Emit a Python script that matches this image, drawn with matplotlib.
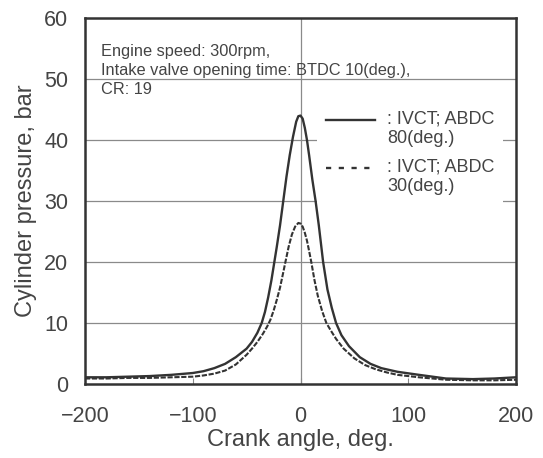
import matplotlib
matplotlib.use("Agg")
import matplotlib.pyplot as plt
from matplotlib.patches import Rectangle

# crank angle (deg) / cylinder pressure (bar)
angle_80 = [-200, -180, -160, -140, -120, -100, -90, -80, -70, -60, -50, -45, -40,
            -36, -33, -30, -27, -25, -22, -19, -16, -13, -10, -7, -4, -2, 0, 2, 4, 6, 8,
            11, 14, 17, 21, 25, 29, 33, 38, 45, 55, 65, 75, 90, 110, 135, 160, 180, 200]
p_80 = [1.1, 1.1, 1.2, 1.3, 1.5, 1.8, 2.1, 2.6, 3.3, 4.4, 5.8, 6.9, 8.4,
        10.0, 11.8, 14.2, 17.0, 19.2, 22.5, 26.0, 30.0, 34.0, 37.5, 40.5, 43.0, 43.9, 44.0, 43.5, 42.0, 40.0, 37.5,
        33.5, 30.0, 26.0, 20.0, 15.5, 12.5, 10.0, 8.0, 6.2, 4.4, 3.3, 2.6, 2.0, 1.5, 0.9, 0.8, 0.9, 1.1]

angle_30 = [-200, -180, -160, -140, -120, -100, -90, -80, -70, -60, -50, -45, -40,
            -35, -31, -28, -25, -22, -19, -16, -14, -11, -8, -5, -2, 0, 2, 4, 6, 8,
            10, 13, 16, 20, 24, 28, 33, 40, 50, 60, 70, 80, 90, 110, 135, 160, 180, 200]
p_30 = [0.9, 0.9, 1.0, 1.0, 1.1, 1.2, 1.4, 1.7, 2.2, 3.2, 4.8, 5.8, 6.9,
        8.2, 9.4, 10.5, 12.0, 13.8, 15.8, 18.3, 20.0, 22.5, 24.5, 25.8, 26.4, 26.3, 25.8, 24.8, 23.5, 21.8,
        20.0, 17.0, 14.5, 12.0, 10.0, 8.8, 7.4, 5.8, 4.2, 3.1, 2.4, 1.9, 1.5, 1.1, 0.7, 0.6, 0.6, 0.7]

x_ticks = [-200, -100, 0, 100, 200]
x_tick_labels = ["\u2212200", "\u2212100", "0", "100", "200"]
y_ticks = [0, 10, 20, 30, 40, 50, 60]
y_grid = [10, 20, 30, 40, 50]

note = "Engine speed: 300rpm,\nIntake valve opening time: BTDC 10(deg.),\nCR: 19"
labels = [": IVCT; ABDC\n80(deg.)", ": IVCT; ABDC\n30(deg.)"]

dark = "#333333"
textc = "#444444"

plt.rcParams["font.family"] = ["Liberation Sans", "DejaVu Sans"]

fig = plt.figure(figsize=(5.43, 4.58), dpi=100)
ax = fig.add_axes([85 / 543, 1 - 384 / 458, 431 / 543, 366 / 458])

for g in y_grid:
    ax.axhline(g, color="#8a8a8a", lw=0.9, zorder=1)
ax.axvline(0, color="#8a8a8a", lw=0.9, zorder=1)

ax.plot(angle_80, p_80, color=dark, lw=1.7, zorder=3)
ax.plot(angle_30, p_30, color=dark, lw=1.5, dashes=(2.5, 0.8), zorder=3)

ax.set_xlim(-200, 200)
ax.set_ylim(0, 60)
ax.set_xticks(x_ticks)
ax.set_yticks(y_ticks)
ax.set_xticklabels(x_tick_labels)
ax.tick_params(axis="x", direction="in", length=4, width=0.8, color="#888888",
               labelsize=15.5, labelcolor=textc, pad=16)
ax.tick_params(axis="y", length=0, labelsize=15.5, labelcolor=textc, pad=12)

for s in ax.spines.values():
    s.set_color(dark)
    s.set_linewidth(1.8)
    s.set_zorder(4)

ax.set_xlabel("Crank angle, deg.", fontsize=17, color=textc, labelpad=1)
ax.set_ylabel("Cylinder pressure, bar", fontsize=17, color=textc, labelpad=5)

ax.text(0.036, 0.93, note, transform=ax.transAxes, fontsize=11.8, color=textc,
        va="top", ha="left", linespacing=1.35, zorder=5)

# legend drawn by hand so the key line sits on the first text line
ax.add_patch(Rectangle((0.538, 0.47), 0.432, 0.306, transform=ax.transAxes,
                       facecolor="white", edgecolor="none", zorder=2))
key_y = [0.721, 0.590]
key_dash = [None, (2.2, 3.2)]
for ky, dsh, lab in zip(key_y, key_dash, labels):
    ln, = ax.plot([0.559, 0.673], [ky, ky], transform=ax.transAxes, color=dark,
                  lw=1.7, zorder=5)
    if dsh:
        ln.set_dashes(dsh)
    ax.text(0.701, ky + 0.027, lab, transform=ax.transAxes, fontsize=13,
            color=textc, va="top", ha="left", linespacing=1.2, zorder=5)

fig.savefig("out.png", dpi=100)
